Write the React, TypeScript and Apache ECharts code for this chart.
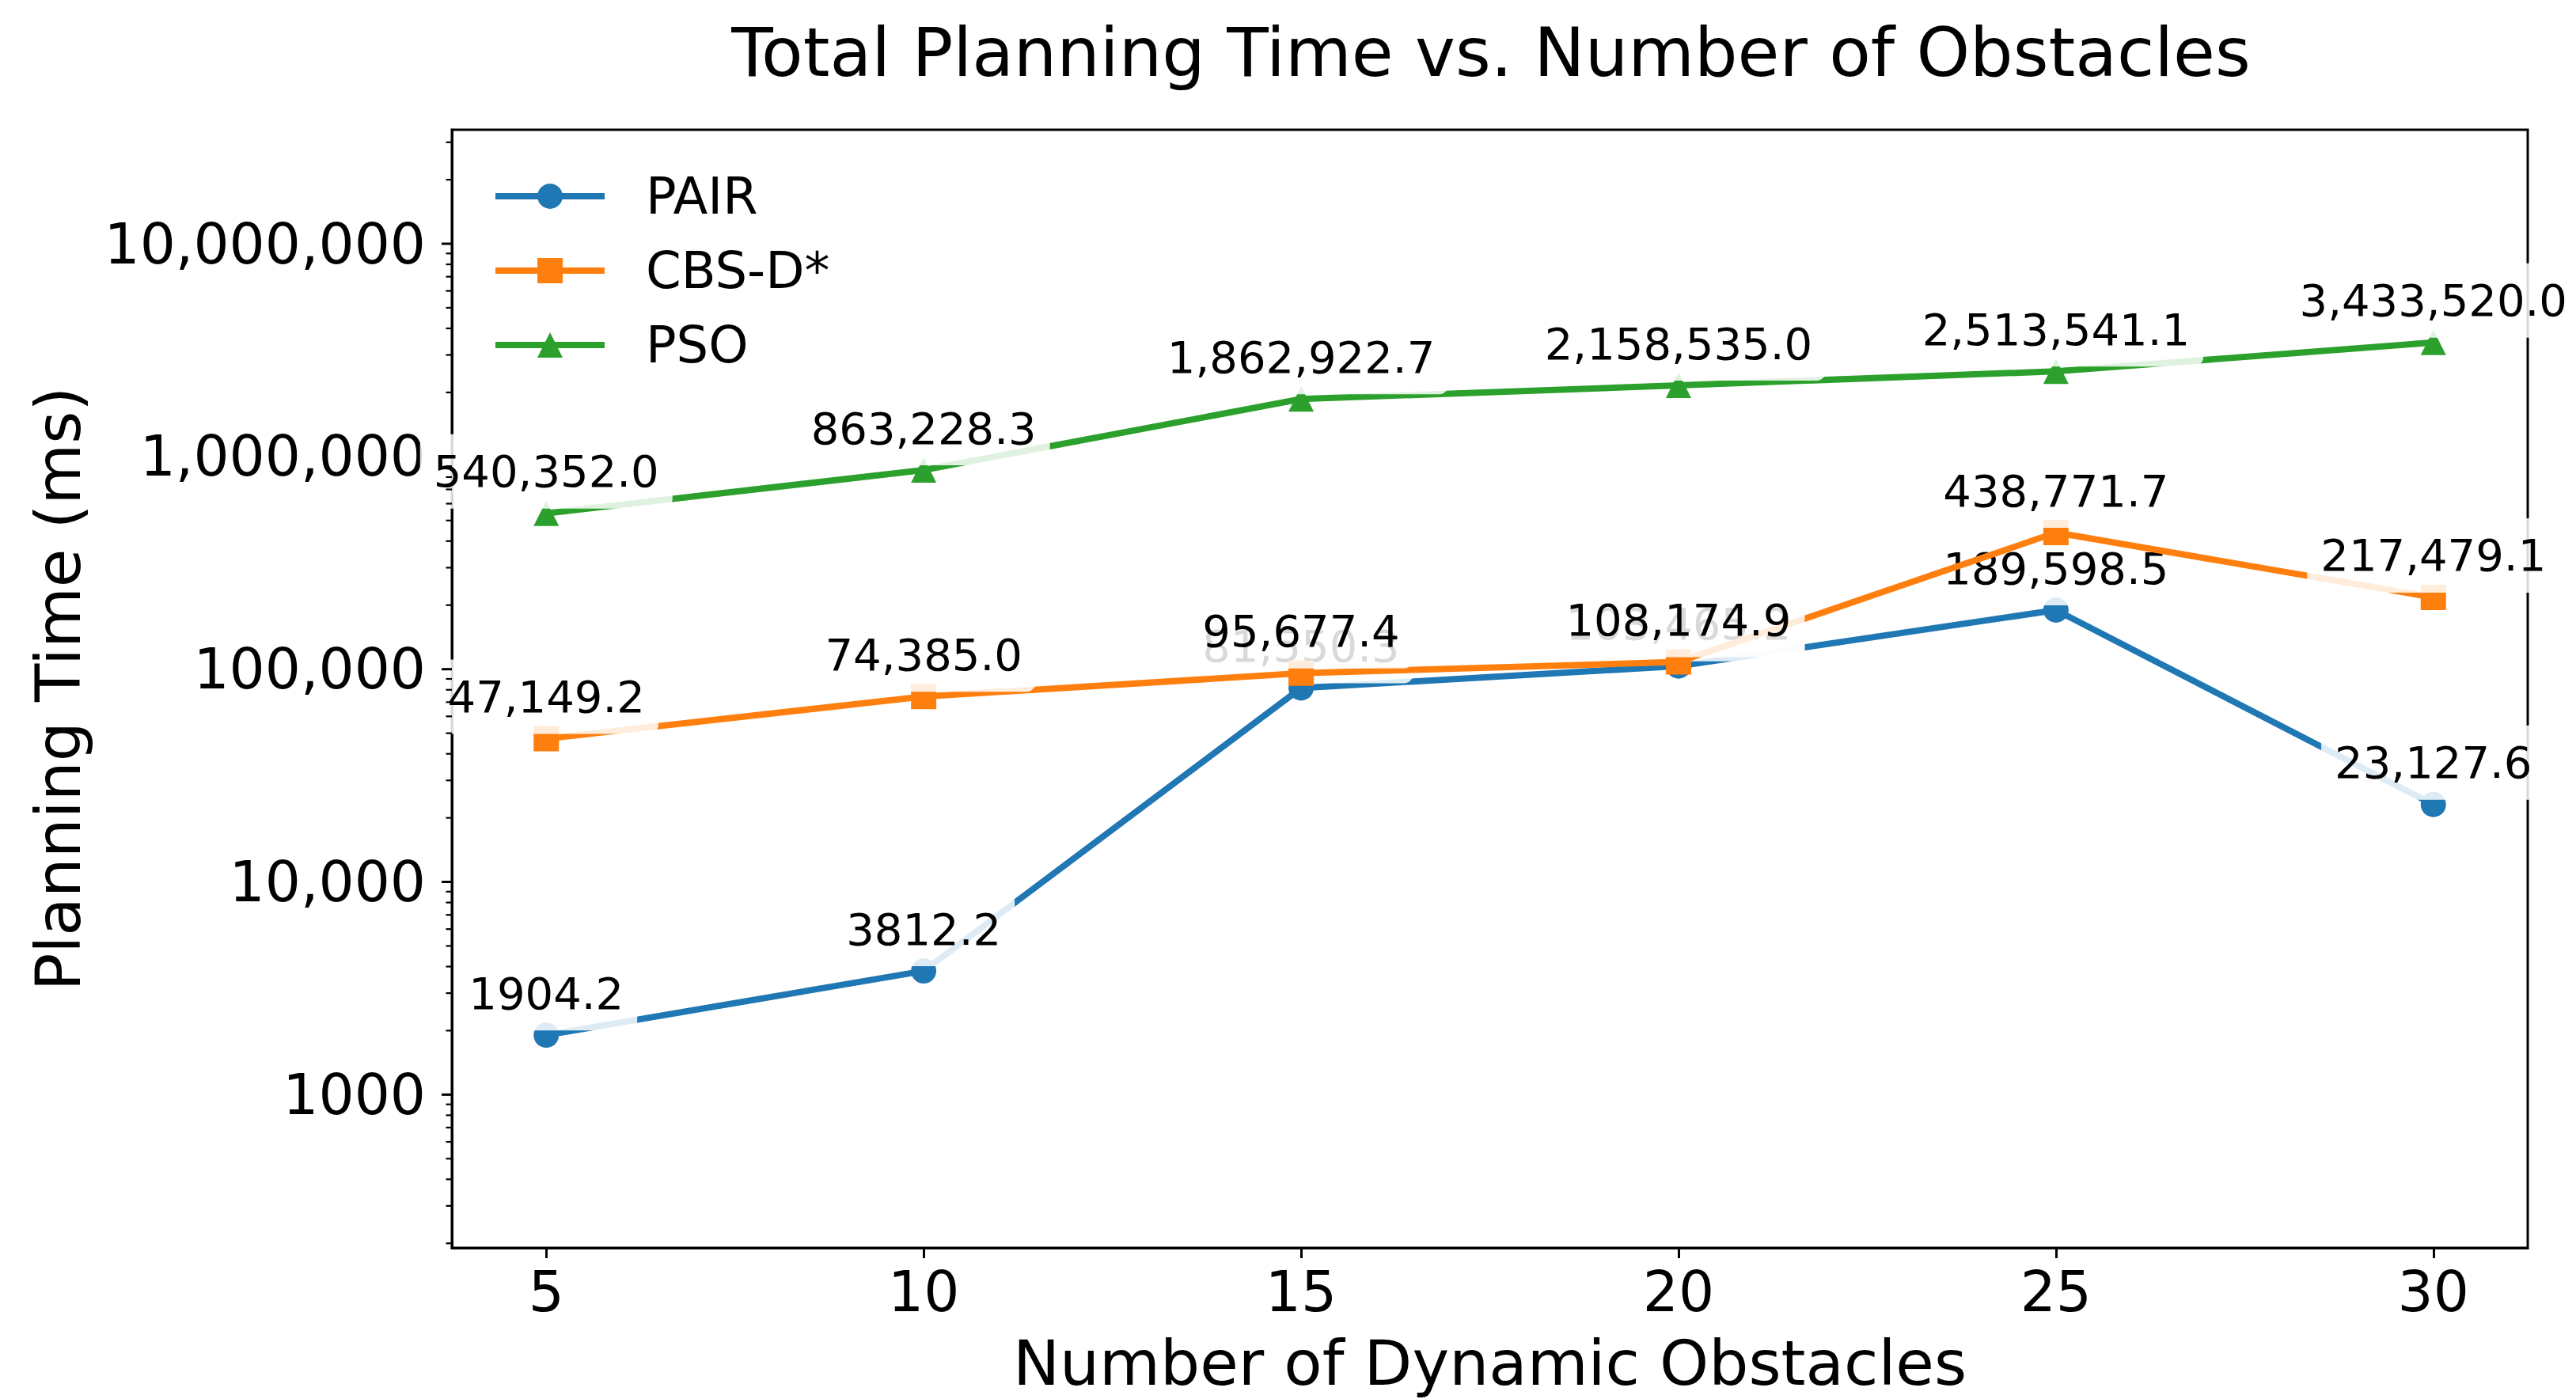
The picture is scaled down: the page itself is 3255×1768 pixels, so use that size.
import React, { useEffect, useRef } from "react";
import * as echarts from "echarts";

// ---- data ----
const obstacles = [5, 10, 15, 20, 25, 30];
const seriesNames = ["PAIR", "CBS-D*", "PSO"];
const pairTimes = [1904.2, 3812.2, 81550.3, 103465.2, 189598.5, 23127.6];
const cbsTimes = [47149.2, 74385.0, 95677.4, 108174.9, 438771.7, 217479.1];
const psoTimes = [540352.0, 863228.3, 1862922.7, 2158535.0, 2513541.1, 3433520.0];
const xTickValues = [5, 10, 15, 20, 25, 30];
const yMajorTicks = [1000, 10000, 100000, 1000000, 10000000];
const yMinorTicks = [
  200, 300, 400, 500, 600, 700, 800, 900,
  2000, 3000, 4000, 5000, 6000, 7000, 8000, 9000,
  20000, 30000, 40000, 50000, 60000, 70000, 80000, 90000,
  200000, 300000, 400000, 500000, 600000, 700000, 800000, 900000,
  2000000, 3000000, 4000000, 5000000, 6000000, 7000000, 8000000, 9000000,
  20000000, 30000000,
];

const FONT = "DejaVu Sans";
const COLORS = ["#1f77b4", "#ff7f0e", "#2ca02c"];
const SYMBOLS = ["circle", "rect", "triangle"];

const fmtValue = (v: number) =>
  v >= 10000
    ? v.toLocaleString("en-US", { minimumFractionDigits: 1, maximumFractionDigits: 1 })
    : v.toFixed(1);

const fmtTick = (v: number) => {
  const l = Math.log10(v);
  if (Math.abs(l - Math.round(l)) > 1e-6) return "";
  const n = Math.round(Math.pow(10, Math.round(l)));
  return n >= 10000 ? n.toLocaleString("en-US") : String(n);
};

export default function App() {
  const ref = useRef<HTMLDivElement>(null);

  useEffect(() => {
    document.body.style.margin = "0";
    document.body.style.overflow = "hidden";
    if (!ref.current) return;
    const chart = echarts.init(ref.current, undefined, { renderer: "svg" });

    const allValues = [...pairTimes, ...cbsTimes, ...psoTimes];
    const yMin = Math.min(...allValues) / 10;
    const yMax = Math.max(...allValues) * 10;
    const xSpan = obstacles[obstacles.length - 1] - obstacles[0];
    const xMin = obstacles[0] - xSpan * 0.05;
    const xMax = obstacles[obstacles.length - 1] + xSpan * 0.05;

    const seriesValues = [pairTimes, cbsTimes, psoTimes];

    const lineSeries = seriesValues.map((vals, i) => ({
      type: "line",
      name: seriesNames[i],
      data: obstacles.map((x, j) => [x, vals[j]]),
      symbol: SYMBOLS[i],
      symbolSize: 32,
      lineStyle: { color: COLORS[i], width: 8 },
      itemStyle: { color: COLORS[i] },
      label: {
        show: true,
        position: "top",
        distance: 0,
        offset: [0, 10],
        formatter: (p: any) => fmtValue(p.value[1]),
        fontFamily: FONT,
        fontSize: 56,
        lineHeight: 66,
        color: "#000",
        backgroundColor: "rgba(255,255,255,0.85)",
        padding: [14, 17, 14, 17],
        borderRadius: 12,
      },
      emphasis: { disabled: true },
      z: 3 + i,
    }));

    const tickData = [
      ...yMajorTicks.map((v) => [xMin, v, 1]),
      ...yMinorTicks.map((v) => [xMin, v, 0]),
    ];

    const option: any = {
      animation: false,
      backgroundColor: "#fff",
      title: {
        text: "Total Planning Time vs. Number of Obstacles",
        left: 1884,
        top: 23,
        textAlign: "center",
        padding: 0,
        textStyle: { fontFamily: FONT, fontSize: 86, fontWeight: "normal", color: "#000" },
      },
      legend: {
        data: seriesNames,
        orient: "vertical",
        left: 622,
        top: 215,
        padding: 0,
        itemWidth: 138,
        itemHeight: 40,
        itemGap: 28,
        lineStyle: { width: 8 },
        textStyle: {
          fontFamily: FONT,
          fontSize: 64,
          lineHeight: 66,
          color: "#000",
          padding: [0, 0, 0, 47],
        },
      },
      grid: {
        left: 571,
        top: 164,
        width: 2623,
        height: 1413,
        show: true,
        borderColor: "#000",
        borderWidth: 3,
        backgroundColor: "transparent",
      },
      xAxis: {
        type: "value",
        min: xMin,
        max: xMax,
        name: "Number of Dynamic Obstacles",
        nameLocation: "middle",
        nameGap: 106,
        nameTextStyle: { fontFamily: FONT, fontSize: 79, color: "#000" },
        axisLine: { show: true, lineStyle: { color: "#000", width: 3 } },
        axisTick: {
          show: true,
          length: 13,
          lineStyle: { color: "#000", width: 3 },
          customValues: xTickValues,
        },
        axisLabel: {
          customValues: xTickValues,
          fontFamily: FONT,
          fontSize: 71,
          color: "#000",
          margin: 20,
        },
        splitLine: { show: false },
      },
      yAxis: {
        type: "log",
        logBase: 10,
        min: yMin,
        max: yMax,
        name: "Planning Time (ms)",
        nameLocation: "middle",
        nameGap: 458,
        nameTextStyle: { fontFamily: FONT, fontSize: 79, color: "#000" },
        axisLine: { show: true, lineStyle: { color: "#000", width: 3 } },
        axisTick: { show: false },
        minorTick: { show: false },
        axisLabel: {
          formatter: fmtTick,
          fontFamily: FONT,
          fontSize: 71,
          color: "#000",
          margin: 33,
          showMinLabel: true,
          showMaxLabel: true,
        },
        splitLine: { show: false },
      },
      series: [
        ...lineSeries,
        {
          type: "custom",
          name: "yTicks",
          coordinateSystem: "cartesian2d",
          clip: false,
          silent: true,
          z: 10,
          data: tickData,
          encode: { x: 0, y: 1 },
          renderItem: (_params: any, api: any) => {
            const p = api.coord([api.value(0), api.value(1)]);
            const major = api.value(2) === 1;
            const len = major ? 13 : 7.5;
            return {
              type: "line",
              shape: { x1: p[0] - len, y1: p[1], x2: p[0], y2: p[1] },
              style: { stroke: "#000", lineWidth: major ? 3 : 2.2 },
            };
          },
        },
      ],
    };

    chart.setOption(option);
    return () => chart.dispose();
  }, []);

  return <div ref={ref} style={{ width: 3255, height: 1768 }} />;
}
